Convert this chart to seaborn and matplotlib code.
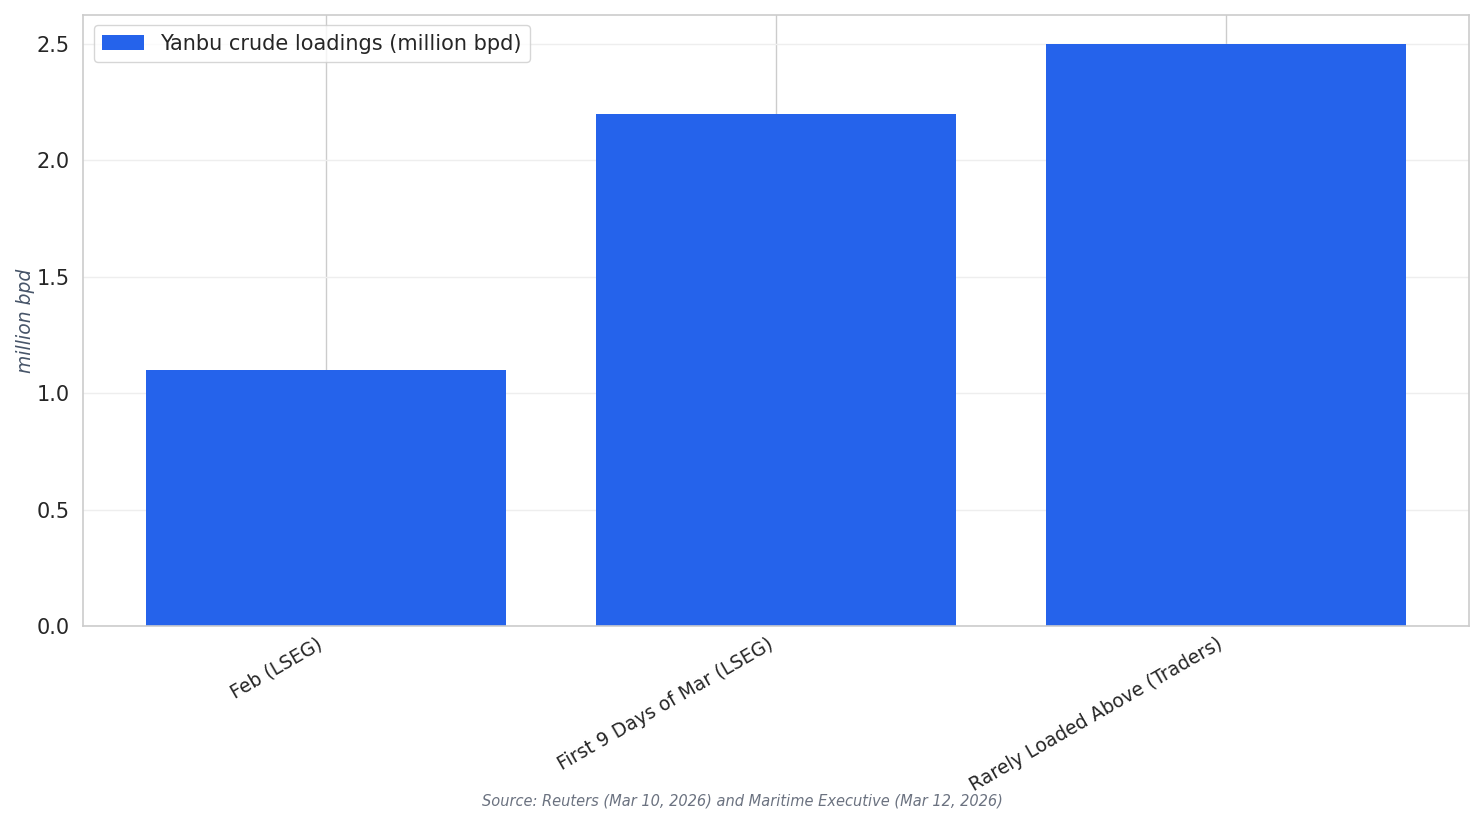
import matplotlib
matplotlib.use('Agg')
import matplotlib.pyplot as plt
import seaborn as sns
import pandas as pd

categories = ['Feb (LSEG)', 'First 9 Days of Mar (LSEG)', 'Rarely Loaded Above (Traders)']
loadings = [1.1, 2.2, 2.5]
series_name = 'Yanbu crude loadings (million bpd)'
source_text = 'Source: Reuters (Mar 10, 2026) and Maritime Executive (Mar 12, 2026)'

df = pd.DataFrame({'period': categories, 'value': loadings})

sns.set_theme(style='whitegrid')
fig, ax = plt.subplots(figsize=(14.84, 8.24), dpi=100)

sns.barplot(data=df, x='period', y='value', color='#2563EB', saturation=1,
            width=0.8, linewidth=0, label=series_name, ax=ax)

ax.yaxis.grid(True, color='#eeeeee', linewidth=1)
ax.xaxis.grid(True, color='#cccccc', linewidth=1)
ax.set_axisbelow(True)
ax.set_xlim(-0.54, 2.54)
ax.set_ylim(0, 2.625)
ax.set_xlabel('')
ax.set_ylabel('million bpd', fontsize=13.5, style='italic', color='#475569',
              labelpad=1)
ax.tick_params(axis='y', labelsize=15)
ax.tick_params(axis='x', labelsize=13.5, pad=0)
plt.setp(ax.get_xticklabels(), rotation=30, ha='right')
for s in ax.spines.values():
    s.set_color('#cccccc')
    s.set_linewidth(1.2)

ax.legend(loc='upper left', fontsize=15, frameon=True)

fig.text(0.5, 0.022, source_text, ha='center', fontsize=10.5,
         style='italic', color='#6b7280')
fig.subplots_adjust(left=0.056, right=0.99, top=0.982, bottom=0.24)
fig.savefig('out.png', dpi=100)
